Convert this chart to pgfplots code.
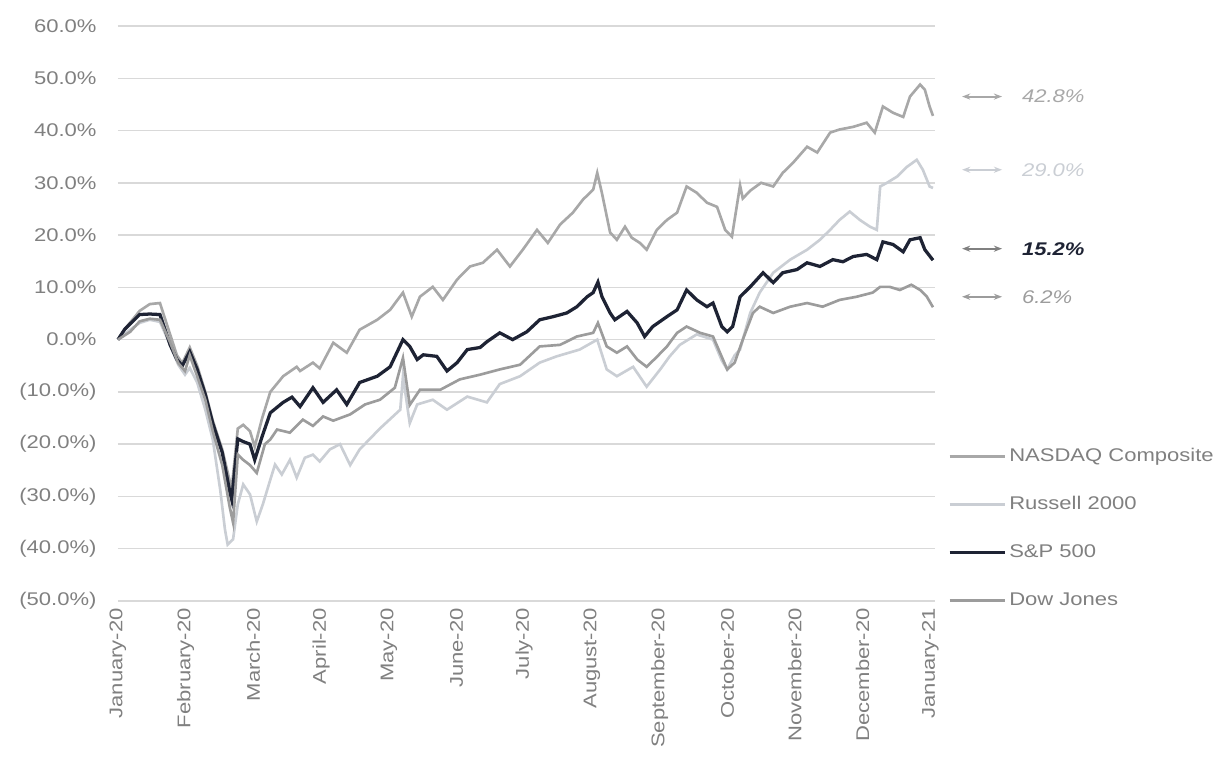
\documentclass[border=0pt]{standalone}
\usepackage{fontspec}
\setmainfont[FakeStretch=1.2]{Liberation Sans}
\usepackage{pgfplots}
\usepackage{pgfplotstable}
\pgfplotsset{compat=1.18}
\usetikzlibrary{arrows.meta}

\definecolor{nasdaq}{HTML}{A8A8A8}
\definecolor{russell}{HTML}{CACED4}
\definecolor{spx}{HTML}{1E2334}
\definecolor{dow}{HTML}{9C9C9C}
\definecolor{gridc}{HTML}{D9D9D9}
\definecolor{labc}{HTML}{808080}

% x = months since 1 January 2020, y = cumulative return in percent
\pgfplotstableread{
x y
0 0
0.10 2.0
0.32 5.5
0.47 6.8
0.62 7.0
0.77 1.0
0.87 -3.0
0.95 -4.5
1.06 -1.5
1.17 -5.0
1.29 -10.0
1.40 -15.5
1.54 -21.0
1.65 -27.0
1.68 -28.5
1.77 -17.0
1.85 -16.3
1.95 -17.5
2.02 -20.5
2.13 -15.0
2.25 -10.0
2.44 -7.0
2.64 -5.2
2.69 -6.0
2.88 -4.4
2.98 -5.5
3.18 -0.6
3.38 -2.5
3.57 1.9
3.83 3.8
4.02 5.7
4.21 9.0
4.34 4.4
4.46 8.2
4.65 10.1
4.80 7.6
5.01 11.5
5.20 14.0
5.39 14.7
5.60 17.2
5.79 14.0
5.98 17.2
6.19 21.0
6.35 18.5
6.53 22.0
6.72 24.3
6.87 26.8
7.02 28.7
7.08 31.9
7.15 28.0
7.27 20.5
7.37 19.1
7.49 21.6
7.59 19.5
7.71 18.5
7.81 17.2
7.96 21.0
8.11 22.9
8.26 24.3
8.40 29.3
8.55 28.1
8.70 26.2
8.85 25.4
8.97 21.0
9.07 19.7
9.19 29.5
9.23 27.0
9.34 28.5
9.50 30.0
9.68 29.3
9.82 31.9
9.97 33.8
10.18 36.9
10.33 35.8
10.52 39.6
10.66 40.2
10.86 40.7
11.06 41.5
11.18 39.6
11.30 44.6
11.45 43.4
11.60 42.6
11.70 46.5
11.85 48.8
11.92 47.8
11.99 44.6
12.04 42.8
}\nasdaq

\pgfplotstableread{
x y
0 0
0.18 1.9
0.32 3.2
0.47 3.8
0.62 3.4
0.77 -1.0
0.89 -4.8
0.99 -6.7
1.06 -5.4
1.17 -8.2
1.29 -13.4
1.40 -19.1
1.51 -28.7
1.58 -36.3
1.62 -39.2
1.70 -38.2
1.77 -31.5
1.85 -27.7
1.95 -29.6
2.05 -34.8
2.14 -31.5
2.25 -26.8
2.32 -23.9
2.42 -25.8
2.54 -23.0
2.64 -26.4
2.76 -22.6
2.88 -22.0
2.98 -23.3
3.13 -21.0
3.28 -20.0
3.43 -24.0
3.57 -21.0
3.87 -17.0
4.17 -13.4
4.21 -7.0
4.31 -16.0
4.42 -12.4
4.65 -11.5
4.86 -13.4
5.16 -10.9
5.45 -12.0
5.64 -8.5
5.94 -7.0
6.23 -4.4
6.48 -3.2
6.82 -1.9
7.08 0.0
7.22 -5.7
7.37 -7.0
7.61 -5.2
7.81 -9.0
8.01 -5.7
8.15 -3.2
8.30 -1.0
8.55 1.0
8.79 0.0
8.92 -4.0
9.00 -5.7
9.11 -3.0
9.19 -1.9
9.34 5.1
9.48 9.0
9.68 12.8
9.93 15.3
10.18 17.2
10.37 19.1
10.52 21.0
10.66 22.9
10.81 24.5
10.96 22.9
11.11 21.6
11.21 21.0
11.26 29.3
11.36 30.0
11.51 31.2
11.65 33.0
11.80 34.4
11.89 32.5
11.99 29.3
12.04 29.0
}\russell

\pgfplotstableread{
x y
0 0
0.10 2.0
0.32 4.8
0.47 4.9
0.62 4.8
0.77 -1.0
0.87 -3.8
0.95 -5.0
1.06 -2.3
1.17 -5.7
1.29 -10.5
1.40 -16.0
1.54 -21.6
1.65 -29.0
1.68 -30.6
1.77 -19.0
1.85 -19.5
1.95 -20.0
2.02 -23.0
2.13 -18.5
2.25 -14.0
2.44 -12.0
2.57 -11.0
2.69 -12.8
2.88 -9.2
3.03 -12.0
3.23 -9.6
3.38 -12.4
3.57 -8.2
3.83 -7.0
4.02 -5.2
4.21 0.0
4.31 -1.3
4.42 -3.8
4.51 -2.9
4.71 -3.2
4.86 -6.0
5.01 -4.4
5.16 -1.9
5.35 -1.5
5.45 -0.4
5.64 1.3
5.83 0.0
6.04 1.5
6.23 3.8
6.43 4.4
6.63 5.1
6.78 6.3
6.93 8.2
7.02 9.0
7.09 11.0
7.15 8.2
7.27 5.1
7.34 3.8
7.52 5.4
7.67 3.2
7.78 0.6
7.90 2.5
8.11 4.4
8.26 5.7
8.40 9.5
8.55 7.6
8.70 6.3
8.79 7.0
8.92 2.5
9.00 1.5
9.08 2.5
9.19 8.2
9.34 10.1
9.53 12.8
9.68 10.9
9.82 12.8
10.03 13.4
10.18 14.7
10.37 14.0
10.56 15.3
10.71 14.9
10.86 15.9
11.06 16.3
11.21 15.3
11.30 18.7
11.45 18.2
11.60 16.8
11.70 19.1
11.85 19.5
11.92 17.2
12.04 15.2
}\spx

\pgfplotstableread{
x y
0 0
0.18 1.5
0.32 3.5
0.47 4.0
0.62 3.8
0.77 -0.5
0.89 -4.5
0.99 -6.0
1.06 -3.0
1.17 -7.0
1.29 -11.5
1.40 -17.5
1.54 -24.0
1.65 -32.0
1.70 -35.0
1.77 -22.0
1.85 -23.0
1.95 -24.0
2.05 -25.5
2.17 -20.0
2.25 -19.1
2.35 -17.2
2.54 -17.8
2.73 -15.3
2.88 -16.5
3.03 -14.7
3.18 -15.5
3.43 -14.3
3.65 -12.4
3.87 -11.5
4.09 -9.2
4.21 -3.5
4.31 -12.5
4.46 -9.6
4.76 -9.6
5.05 -7.6
5.35 -6.7
5.64 -5.7
5.94 -4.8
6.23 -1.3
6.53 -1.0
6.78 0.6
7.02 1.3
7.09 3.2
7.22 -1.3
7.37 -2.5
7.52 -1.3
7.67 -3.8
7.81 -5.2
7.96 -3.3
8.11 -1.3
8.26 1.3
8.40 2.5
8.60 1.3
8.79 0.6
8.92 -3.3
9.00 -5.7
9.11 -4.4
9.23 0.0
9.38 5.1
9.48 6.3
9.68 5.1
9.93 6.3
10.18 7.0
10.41 6.3
10.66 7.6
10.91 8.2
11.15 9.0
11.26 10.1
11.40 10.1
11.55 9.5
11.72 10.5
11.85 9.5
11.95 8.2
12.04 6.2
}\dow

\begin{document}
\begin{tikzpicture}
\path[use as bounding box] (0,0) rectangle (600pt,372.55pt);
\begin{axis}[
  at={(57.84pt,77.94pt)}, anchor=south west,
  scale only axis, width=400.5pt, height=281.86pt,
  xmin=0, xmax=12.07, ymin=-50, ymax=60,
  clip=false,
  axis x line*=bottom, axis y line*=left,
  x axis line style={draw=gridc, line width=1.2pt, -},
  y axis line style={draw=none},
  xtick={0,...,12},
  xticklabels={January-20,February-20,March-20,April-20,May-20,June-20,July-20,August-20,September-20,October-20,November-20,December-20,January-21},
  xticklabel style={rotate=90, anchor=east, font=\fontsize{9}{10}\selectfont, text=labc},
  major tick length=0pt,
  ytick={-50,-40,...,60},
  yticklabels={(50.0\%),(40.0\%),(30.0\%),(20.0\%),(10.0\%),0.0\%,10.0\%,20.0\%,30.0\%,40.0\%,50.0\%,60.0\%},
  yticklabel style={anchor=east, font=\fontsize{9}{10}\selectfont, text=labc, xshift=-7pt},
  ymajorgrids, grid style={gridc, line width=0.75pt},
  /pgf/number format/assume math mode=true,
  legend cell align=left,
  legend image code/.code={\draw[line width=1.4pt, #1] (0pt,0pt) -- (27pt,0pt);},
  legend style={at={(axis cs:12.26,-20.0)}, anchor=north west, draw=none, fill=none,
    inner sep=0pt, row sep=11.5pt,
    font=\fontsize{9}{10}\selectfont, text=labc,
    nodes={inner sep=1.5pt, text height=7pt, text depth=2pt}},
]
\addplot[nasdaq, line width=1.3pt] table[x=x,y=y]{\nasdaq};
\addlegendentry{NASDAQ Composite}
\addplot[russell, line width=1.3pt] table[x=x,y=y]{\russell};
\addlegendentry{Russell 2000}
\addplot[spx, line width=1.6pt] table[x=x,y=y]{\spx};
\addlegendentry{S\&P 500}
\addplot[dow, line width=1.3pt] table[x=x,y=y]{\dow};
\addlegendentry{Dow Jones}

% end-of-period return callouts
\draw[nasdaq, line width=1pt, {Stealth[length=4pt]}-{Stealth[length=4pt]}] (axis cs:12.47,46.5) -- (axis cs:13.06,46.5);
\node[anchor=west, text=nasdaq, font=\fontsize{9}{10}\selectfont\itshape] at (axis cs:13.25,46.5) {42.8\%};
\draw[russell, line width=1pt, {Stealth[length=4pt]}-{Stealth[length=4pt]}] (axis cs:12.47,32.5) -- (axis cs:13.06,32.5);
\node[anchor=west, text=russell, font=\fontsize{9}{10}\selectfont\itshape] at (axis cs:13.25,32.5) {29.0\%};
\draw[labc, line width=1pt, {Stealth[length=4pt]}-{Stealth[length=4pt]}] (axis cs:12.47,17.4) -- (axis cs:13.06,17.4);
\node[anchor=west, text=spx, font=\fontsize{9}{10}\selectfont\bfseries\itshape] at (axis cs:13.25,17.4) {15.2\%};
\draw[dow, line width=1pt, {Stealth[length=4pt]}-{Stealth[length=4pt]}] (axis cs:12.47,8.2) -- (axis cs:13.06,8.2);
\node[anchor=west, text=dow, font=\fontsize{9}{10}\selectfont\itshape] at (axis cs:13.25,8.2) {6.2\%};
\end{axis}
\end{tikzpicture}
\end{document}
